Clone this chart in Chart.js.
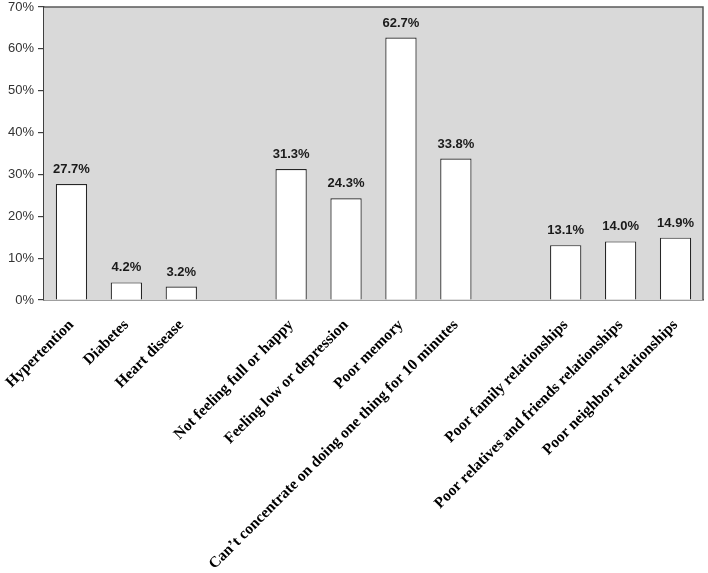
<!DOCTYPE html>
<html><head><meta charset="utf-8">
<script src="https://cdn.jsdelivr.net/npm/chart.js@4"></script>
<style>html,body{margin:0;padding:0;background:#fff}#wrap{width:708px;height:573px}</style>
</head><body><div id="wrap"><canvas id="c" width="708" height="573"></canvas></div>
<script>
const categories = ["Hypertention","Diabetes","Heart disease","","Not feeling full or happy","Feeling low or depression","Poor memory","Can\u2019t concentrate on doing one thing for 10 minutes","","Poor family relationships","Poor relatives and friends relationships","Poor neighbor relationships"];
const values = [27.7,4.2,3.2,null,31.3,24.3,62.7,33.8,null,13.1,14.0,14.9];
const labelsText = ["27.7%","4.2%","3.2%","","31.3%","24.3%","62.7%","33.8%","","13.1%","14.0%","14.9%"];
const yTicks = [0,10,20,30,40,50,60,70];

const bgPlugin = {
  id:'bg',
  beforeDatasetsDraw(chart){
    const {ctx, chartArea:a} = chart;
    ctx.save();
    ctx.fillStyle = '#d9d9d9';
    ctx.fillRect(a.left, a.top, a.right-a.left, a.bottom-a.top);
    ctx.strokeStyle = '#595959';
    ctx.lineWidth = 1.5;
    ctx.beginPath();
    ctx.moveTo(a.left, a.top); ctx.lineTo(a.right, a.top); ctx.lineTo(a.right, a.bottom);
    ctx.stroke();
    ctx.restore();
  },
  afterDatasetsDraw(chart){
    const {ctx} = chart;
    const meta = chart.getDatasetMeta(0);
    ctx.save();
    ctx.font = 'bold 13px "Liberation Sans", Arial, sans-serif';
    ctx.fillStyle = '#1a1a1a';
    ctx.textAlign = 'center';
    ctx.textBaseline = 'bottom';
    meta.data.forEach((el,i)=>{
      if(values[i]==null) return;
      ctx.fillText(labelsText[i], el.x, el.y - 8);
    });
    ctx.restore();
  }
};

new Chart(document.getElementById('c'), {
  type:'bar',
  data:{labels:categories, datasets:[{data:values, backgroundColor:'#ffffff', borderColor:'#262626', borderWidth:1.2, categoryPercentage:1, barPercentage:0.57}]},
  options:{
    responsive:false, animation:false,
    layout:{padding:{top:7,right:5,left:0,bottom:0}},
    plugins:{legend:{display:false}, tooltip:{enabled:false}},
    scales:{
      x:{
        grid:{display:false},
        border:{display:true,color:'#404040',width:1.5},
        ticks:{autoSkip:false, maxRotation:45, minRotation:45, color:'#000', padding:8,
          font:{family:'"Liberation Serif", "Times New Roman", serif', weight:'bold', size:15.5}},
        afterFit(s){ s.height = 273; s.paddingLeft = 0; s.paddingRight = 0; }
      },
      y:{
        min:0, max:70,
        afterBuildTicks(s){ s.ticks = yTicks.map(v=>({value:v})); },
        grid:{drawOnChartArea:false, drawTicks:true, tickLength:6, color:'#404040', lineWidth:1.2},
        border:{display:true,color:'#404040',width:1.5},
        ticks:{color:'#333', padding:4, font:{family:'"Liberation Sans", Arial, sans-serif', size:13}, callback:v=>v+'%'},
        afterFit(s){ s.width = 44; s.paddingTop = 0; s.paddingBottom = 0; }
      }
    }
  },
  plugins:[bgPlugin]
});
</script></body></html>
